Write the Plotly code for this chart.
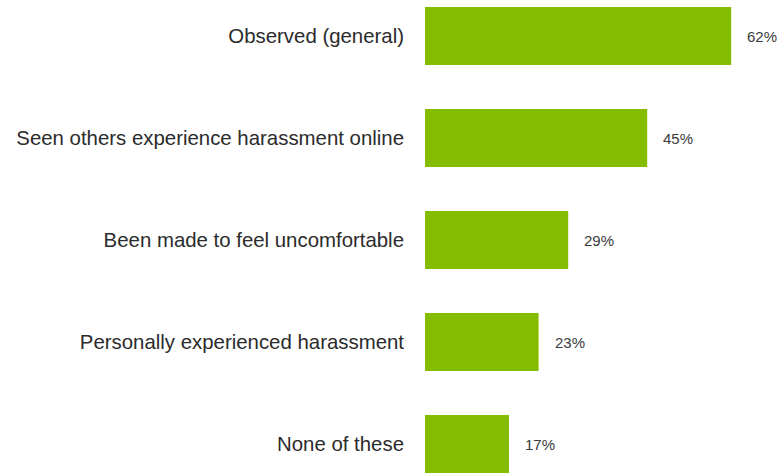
import plotly.graph_objects as go

categories = [
    "Observed (general)",
    "Seen others experience harassment online",
    "Been made to feel uncomfortable",
    "Personally experienced harassment",
    "None of these",
]
values = [62, 45, 29, 23, 17]
value_labels = ["62%", "45%", "29%", "23%", "17%"]

BAR_COLOR = "#84BD00"
TEXT_COLOR = "#2b2b2b"
LABEL_COLOR = "#3a3a3a"
FONT = "Liberation Sans, Arial, sans-serif"

fig = go.Figure(
    go.Bar(
        x=values,
        y=categories,
        orientation="h",
        marker=dict(color=BAR_COLOR, line=dict(width=0)),
        width=0.57,
        hoverinfo="skip",
    )
)

for cat, v, lab in zip(categories, values, value_labels):
    fig.add_annotation(
        x=v, y=cat, text=lab, showarrow=False,
        xanchor="left", xshift=14,
        font=dict(family=FONT, size=15, color=LABEL_COLOR),
    )

fig.update_layout(
    width=784, height=473,
    margin=dict(l=425, r=0, t=0, b=0),
    paper_bgcolor="white", plot_bgcolor="white",
    showlegend=False,
    font=dict(family=FONT, color=TEXT_COLOR),
    xaxis=dict(range=[0, 72.7], visible=False, fixedrange=True),
    yaxis=dict(
        categoryorder="array", categoryarray=categories,
        range=[4.284, -0.353],
        showgrid=False, zeroline=False, showline=False, ticks="",
        tickfont=dict(family=FONT, size=20.4, color=TEXT_COLOR),
        ticklabelstandoff=20,
    ),
)

fig.write_html("out.html")
